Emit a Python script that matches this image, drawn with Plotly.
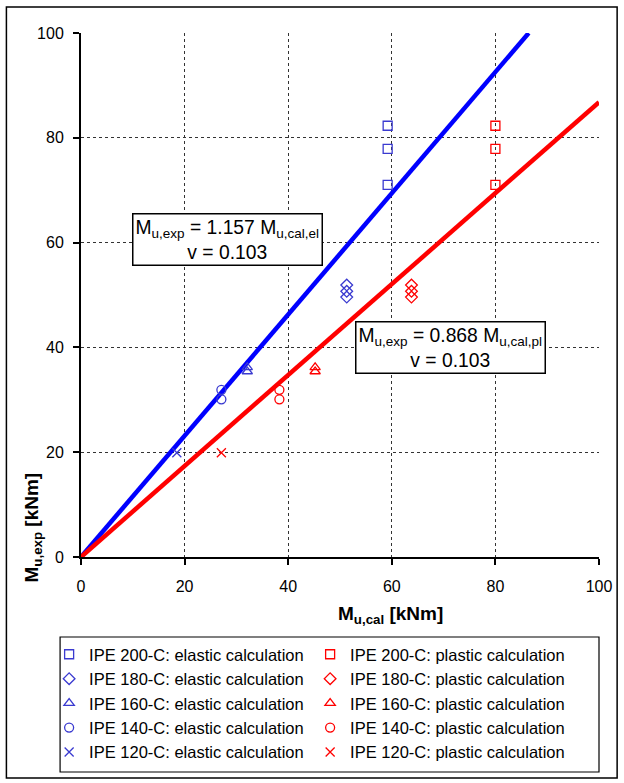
import plotly.graph_objects as go

# ---- data ----
sections = ["IPE 200-C", "IPE 180-C", "IPE 160-C", "IPE 140-C", "IPE 120-C"]
symbols = ["square-open", "diamond-open", "triangle-up-open", "circle-open", "x-thin-open"]
m_exp = [[82.3, 77.9, 71.0], [51.9, 50.7, 49.6], [36.2, 35.4], [31.9, 30.1], [19.9]]
m_cal_el = [59.2, 51.3, 32.1, 27.1, 18.5]
m_cal_pl = [80.0, 63.8, 45.2, 38.3, 27.1]
slope_el = 1.157
slope_pl = 0.868
cov_el = 0.103
cov_pl = 0.103
line_x_el = [0, 100 / slope_el]
line_x_pl = [0, 100]

BLUE_M = "#3a3ad0"
RED = "#ff0000"
BLUE = "#0000ff"
FONT = "Liberation Sans, Arial, sans-serif"

fig = go.Figure()

# regression lines (no legend)
fig.add_trace(go.Scatter(x=line_x_el, y=[v * slope_el for v in line_x_el], mode="lines",
                         line=dict(color=BLUE, width=4.5), showlegend=False, hoverinfo="skip"))
fig.add_trace(go.Scatter(x=line_x_pl, y=[v * slope_pl for v in line_x_pl], mode="lines",
                         line=dict(color=RED, width=4.5), showlegend=False, hoverinfo="skip"))

for i, sec in enumerate(sections):
    ys = m_exp[i]
    sym = symbols[i]
    fig.add_trace(go.Scatter(
        x=[m_cal_el[i]] * len(ys), y=ys, mode="markers",
        name=f"{sec}: elastic calculation",
        marker=dict(symbol=sym, size=9, color=BLUE_M, line=dict(color=BLUE_M, width=1.3))))
    fig.add_trace(go.Scatter(
        x=[m_cal_pl[i]] * len(ys), y=ys, mode="markers",
        name=f"{sec}: plastic calculation",
        marker=dict(symbol=sym, size=9, color=RED, line=dict(color=RED, width=1.3))))

axis_common = dict(
    range=[0, 100], dtick=20, showgrid=True, gridcolor="#333333", griddash="3px,3px",
    gridwidth=1, showline=True, linecolor="black", linewidth=2, ticks="outside",
    ticklen=6, tickcolor="black", tickwidth=1.5, zeroline=False,
    tickfont=dict(family=FONT, size=16, color="black"),
)

fig.update_layout(
    width=624, height=783,
    margin=dict(l=81, r=23, t=33, b=226),
    paper_bgcolor="white", plot_bgcolor="white",
    font=dict(family=FONT, color="black"),
    xaxis=dict(**axis_common, ticklabelstandoff=8),
    yaxis=dict(**axis_common, ticklabelstandoff=6),
    legend=dict(
        orientation="h", x=(49 - 81) / 520, xanchor="left", y=-0.1527, yanchor="top",
        entrywidth=216, entrywidthmode="pixels",
        font=dict(family=FONT, size=16.5, color="black"),
        borderwidth=0, bgcolor="rgba(0,0,0,0)",
    ),
    showlegend=True,
)

# outer frame
fig.add_shape(type="rect", xref="paper", yref="paper",
              x0=-0.144, x1=1.035, y0=-0.4218, y1=1.0496,
              line=dict(color="black", width=1.5), fillcolor="rgba(0,0,0,0)", layer="below")
# legend frame
fig.add_shape(type="rect", xref="paper", yref="paper",
              x0=(60 - 81) / 520, x1=1.0, y0=-0.4103, y1=-0.1527,
              line=dict(color="black", width=1.2), fillcolor="rgba(0,0,0,0)", layer="below")

# axis titles
fig.add_annotation(xref="paper", yref="paper", x=0.597, y=-0.111, xanchor="center", yanchor="middle",
                   showarrow=False, text="<b>M<sub>u,cal</sub> [kNm]</b>",
                   font=dict(family=FONT, size=19))
fig.add_annotation(xref="paper", yref="paper", x=-0.092, y=0.057, xanchor="center", yanchor="middle",
                   showarrow=False, textangle=-90, text="<b>M<sub>u,exp</sub> [kNm]</b>",
                   font=dict(family=FONT, size=19))

# regression boxes
fig.add_annotation(x=28.3, y=60.5, xref="x", yref="y", showarrow=False,
                   text=f"M<sub>u,exp</sub> = {slope_el:.3f} M<sub>u,cal,el</sub><br>v = {cov_el:.3f}",
                   font=dict(family=FONT, size=19.3), bgcolor="white", bordercolor="black",
                   borderwidth=1.5, borderpad=2)
fig.add_annotation(x=71.4, y=40.0, xref="x", yref="y", showarrow=False,
                   text=f"M<sub>u,exp</sub> = {slope_pl:.3f} M<sub>u,cal,pl</sub><br>v = {cov_pl:.3f}",
                   font=dict(family=FONT, size=19.3), bgcolor="white", bordercolor="black",
                   borderwidth=1.5, borderpad=2)

fig.write_html("out.html")
